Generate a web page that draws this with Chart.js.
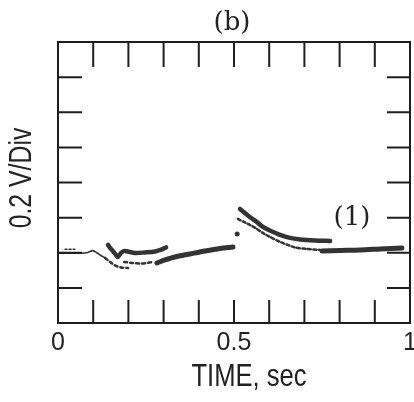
<!DOCTYPE html>
<html>
<head>
<meta charset="utf-8">
<script src="https://cdn.jsdelivr.net/npm/chart.js@4"></script>
<style>
  html, body { margin: 0; padding: 0; background: #fff; }
  #wrap { width: 414px; height: 402px; }
</style>
</head>
<body>
<div id="wrap"><canvas id="scopeChart" width="414" height="402"></canvas></div>
<script>
// tick positions (time in sec, volts in divisions)
const xTickLabels = [0, 0.5, 1];
const xMinorTicks = [0.1, 0.2, 0.3, 0.4, 0.5, 0.6, 0.7, 0.8, 0.9];
const yDivTicks = [1, 2, 3, 4, 5, 6, 7];

// trace pieces
const startDotsX = [0.020, 0.048];
const startDotsY = [2.10, 2.10];

const baseX = [0, 0.065, 0.085, 0.099, 0.111, 0.122, 0.134];
const baseY = [1.986, 1.986, 2.009, 2.060, 1.994, 1.923, 1.852];

const lowerAX = [0.134, 0.148, 0.162, 0.179, 0.199];
const lowerAY = [1.852, 1.738, 1.638, 1.581, 1.567];

const upperAX = [0.142, 0.153, 0.165, 0.170, 0.179, 0.188, 0.219, 0.247, 0.276, 0.295, 0.307];
const upperAY = [2.222, 2.080, 1.937, 1.880, 1.994, 2.051, 1.994, 2.009, 2.037, 2.094, 2.151];

const lowerBX = [0.188, 0.210, 0.233, 0.253, 0.270];
const lowerBY = [1.738, 1.709, 1.695, 1.709, 1.738];

const riseX = [0.281, 0.304, 0.332, 0.375, 0.418, 0.460, 0.497];
const riseY = [1.709, 1.795, 1.880, 1.966, 2.051, 2.123, 2.165];

const spotX = [0.509];
const spotY = [2.536];

const decayTopX = [0.517, 0.531, 0.545, 0.565, 0.582, 0.605, 0.631, 0.659, 0.688, 0.730, 0.773];
const decayTopY = [3.248, 3.134, 3.020, 2.877, 2.735, 2.621, 2.507, 2.422, 2.379, 2.350, 2.336];

const decayLowX = [0.511, 0.528, 0.545, 0.565, 0.582, 0.605, 0.631, 0.653, 0.673, 0.707, 0.744];
const decayLowY = [2.963, 2.877, 2.792, 2.678, 2.564, 2.436, 2.308, 2.222, 2.151, 2.108, 2.080];

const tailX = [0.750, 0.801, 0.858, 0.915, 0.977];
const tailY = [2.051, 2.066, 2.080, 2.108, 2.137];

const curveLabel = { text: '(1)', x: 0.835, y: 2.99 };

const ink = '#333';
const sans = "'Liberation Sans', Arial, sans-serif";

function pts(xs, ys) {
    return xs.map((x, i) => ({ x: x, y: ys[i] }));
}

function trace(xs, ys, width, dash) {
    return {
        data: pts(xs, ys),
        borderColor: ink,
        backgroundColor: ink,
        borderWidth: width,
        borderDash: dash || [],
        borderCapStyle: 'round',
        pointRadius: 0,
        tension: 0.3,
        fill: false,
    };
}

const datasets = [
    trace(startDotsX, startDotsY, 1.5, [2, 2]),
    trace(baseX, baseY, 1.6),
    trace(lowerAX, lowerAY, 2.5, [3, 3]),
    trace(upperAX, upperAY, 4.5),
    trace(lowerBX, lowerBY, 2.5, [3, 3]),
    trace(riseX, riseY, 5),
    {
        data: pts(spotX, spotY),
        showLine: false,
        pointRadius: 2.5,
        pointBackgroundColor: ink,
        pointBorderWidth: 0,
    },
    trace(decayTopX, decayTopY, 4.5),
    trace(decayLowX, decayLowY, 2.5, [3, 2.5]),
    trace(tailX, tailY, 5),
];

// draw text squeezed sideways, the scope photo uses a condensed face
function narrowText(ctx, text, x, y, size, angle) {
    ctx.save();
    ctx.translate(x, y);
    if (angle) ctx.rotate(angle);
    ctx.scale(0.8, 1);
    ctx.font = size + 'px ' + sans;
    ctx.fillText(text, 0, 0);
    ctx.restore();
}

// frame, inward ticks and texts
const scopeFrame = {
    id: 'scopeFrame',
    afterDraw(chart) {
        const ctx = chart.ctx;
        const area = chart.chartArea;
        const xs = chart.scales.x;
        const ys = chart.scales.y;
        ctx.save();
        ctx.strokeStyle = '#1e1e1e';
        ctx.lineWidth = 2;
        ctx.strokeRect(area.left, area.top, area.right - area.left, area.bottom - area.top);

        ctx.beginPath();
        xMinorTicks.forEach(v => {
            const px = xs.getPixelForValue(v);
            ctx.moveTo(px, area.top);
            ctx.lineTo(px, area.top + 25);
            ctx.moveTo(px, area.bottom);
            ctx.lineTo(px, area.bottom - 23);
        });
        yDivTicks.forEach(v => {
            const py = ys.getPixelForValue(v);
            ctx.moveTo(area.left, py);
            ctx.lineTo(area.left + 24, py);
            ctx.moveTo(area.right, py);
            ctx.lineTo(area.right - 23, py);
        });
        ctx.stroke();

        ctx.fillStyle = '#222';
        ctx.textAlign = 'center';
        ctx.textBaseline = 'middle';
        ctx.font = "26px 'DejaVu Serif', serif";
        ctx.fillText('(b)', 232, 23);
        ctx.fillText(curveLabel.text, xs.getPixelForValue(curveLabel.x), ys.getPixelForValue(curveLabel.y));

        narrowText(ctx, 'TIME, sec', 249, 377, 32, 0);
        narrowText(ctx, '0.2 V/Div', 22, 178, 31, -Math.PI / 2);
        ctx.restore();
    }
};

const ctx = document.querySelector('#scopeChart').getContext('2d');
new Chart(ctx, {
    type: 'line',
    data: { datasets: datasets },
    options: {
        responsive: false,
        animation: false,
        layout: { padding: { top: 42, right: 4, left: 0, bottom: 0 } },
        plugins: {
            legend: { display: false },
            tooltip: { enabled: false },
        },
        scales: {
            x: {
                type: 'linear',
                min: 0,
                max: 1,
                grid: { display: false, drawTicks: false },
                border: { display: false },
                ticks: {
                    stepSize: 0.1,
                    autoSkip: false,
                    maxRotation: 0,
                    padding: 5,
                    color: '#222',
                    font: { family: sans, size: 25 },
                    callback: v => {
                        const hit = xTickLabels.find(t => Math.abs(t - v) < 1e-6);
                        return hit === undefined ? '' : String(hit);
                    }
                },
                afterFit: scale => {
                    scale.height = 79;
                    scale.paddingLeft = 0;
                    scale.paddingRight = 0;
                }
            },
            y: {
                min: 0,
                max: 8,
                grid: { display: false, drawTicks: false },
                border: { display: false },
                ticks: { display: false, stepSize: 1 },
                afterFit: scale => {
                    scale.width = 58;
                }
            }
        }
    },
    plugins: [scopeFrame]
});
</script>
</body>
</html>
